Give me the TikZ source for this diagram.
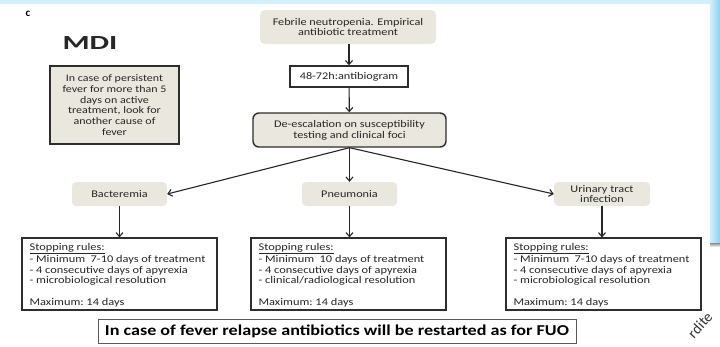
\documentclass[tikz,border=0pt]{standalone}
\usepackage{fontspec}
\setmainfont{Carlito}[FakeStretch=1.2]
\newfontfamily\plainfont{Carlito}
\usetikzlibrary{arrows.meta}
\definecolor{beige}{HTML}{EAE8DE}
\definecolor{edge}{HTML}{2E2E2E}
\definecolor{skyA}{HTML}{D3EFFB}
\definecolor{skyB}{HTML}{8FD0F0}
\begin{document}
\begin{tikzpicture}[x=1pt,y=-1pt,
  every node/.style={font=\fontsize{10.2}{10.7}\selectfont, text=black!85},
  soft/.style={fill=beige, rounded corners=5pt, align=center, inner sep=0pt},
  framed/.style={draw=edge, line width=1.4pt, align=center, inner sep=0pt},
  rulebox/.style={draw=edge, line width=1.2pt, minimum width=195pt, minimum height=72pt, inner sep=0pt},
  ruletext/.style={anchor=west, align=left, inner sep=0pt, font=\fontsize{10.3}{10.7}\selectfont},
  arr/.style={draw=black!85, line width=1.1pt, -{Straight Barb[length=4pt,width=7pt]}}]
\useasboundingbox (0,0) rectangle (720,346);
\fill[white] (0,0) rectangle (720,346);
\fill[skyA] (0,0) rectangle (720,3.5);
\shade[left color=skyA, right color=skyB] (710,0) rectangle (720,243);
\shade[top color=black!45, bottom color=white] (710,243) rectangle (720,247);

\node[font=\plainfont\bfseries\fontsize{11}{11}\selectfont, text=black] (c) at (28,14) {c};
\node[font=\plainfont\bfseries\fontsize{20}{20}\selectfont, text=black!85] (mdi) at (90,43)
  {\scalebox{1.55}[1]{MDI}};

\node[framed, fill=beige, minimum width=129pt, minimum height=78pt, line width=1.5pt,
  font=\fontsize{10}{10.8}\selectfont] (note) at (114.5,105)
  {In case of persistent\\fever for more than 5\\days on active\\treatment, look for\\another cause of\\fever};

\node[soft, minimum width=176pt, minimum height=34pt] (febr) at (348,27)
  {Febrile neutropenia. Empirical\\antibiotic treatment};
\node[framed, minimum width=118pt, minimum height=21pt] (anti) at (349,76.5) {48-72h:antibiogram};
\node[framed, fill=beige, rounded corners=6pt, minimum width=193pt, minimum height=34pt] (deesc) at (349.5,130)
  {De-escalation on susceptibility\\testing and clinical foci};

\node[soft, rounded corners=4pt, minimum width=95pt, minimum height=24pt] (bact) at (119.5,194) {Bacteremia};
\node[soft, rounded corners=4pt, minimum width=95pt, minimum height=24pt] (pneu) at (349.5,194) {Pneumonia};
\node[soft, rounded corners=4pt, minimum width=96pt, minimum height=24pt] (uti) at (602,194) {Urinary tract\\infection};

\node[rulebox] (stop1) at (119.5,274) {};
\node[rulebox] (stop2) at (348.5,274) {};
\node[rulebox] (stop3) at (603.5,274) {};
\node[ruletext] (stop1t) at ([xshift=8pt,yshift=-1pt]stop1.west)
  {\underline{Stopping rules:}\\- Minimum\ \ 7-10 days of treatment\\- 4 consecutive days of apyrexia\\- microbiological resolution\\[10.7pt]Maximum:\ 14 days};
\node[ruletext] (stop2t) at ([xshift=8pt,yshift=-1pt]stop2.west)
  {\underline{Stopping rules:}\\- Minimum\ \ 10 days of treatment\\- 4 consecutive days of apyrexia\\- clinical/radiological resolution\\[10.7pt]Maximum:\ 14 days};
\node[ruletext] (stop3t) at ([xshift=8pt,yshift=-1pt]stop3.west)
  {\underline{Stopping rules:}\\- Minimum\ \ 7-10 days of treatment\\- 4 consecutive days of apyrexia\\- microbiological resolution\\[10.7pt]Maximum:\ 14 days};

\node[draw=black!65, line width=1pt, minimum width=478pt, minimum height=24pt, inner sep=0pt,
  font=\bfseries\fontsize{15.1}{15.1}\selectfont, text=black] (relapse) at (337,331)
  {In case of fever relapse antibiotics will be restarted as for FUO};

\node[font=\plainfont\fontsize{15}{15}\selectfont, text=black!80, rotate=48, inner sep=0pt] (wm) at (700,325) {rdite};

\draw[arr] (febr.south -| anti.north) -- (anti.north);
\draw[arr] (anti) -- (deesc);
\draw[arr] (deesc.south) -- (bact.east);
\draw[arr] (deesc.south) -- (pneu.north);
\draw[arr] (deesc.south) -- (uti.west);
\draw[arr] (bact.south) -- (stop1.north);
\draw[arr] (pneu.south) -- (pneu.south |- stop2.north);
\draw[arr] (uti.south) -- (uti.south |- stop3.north);
\end{tikzpicture}
\end{document}
